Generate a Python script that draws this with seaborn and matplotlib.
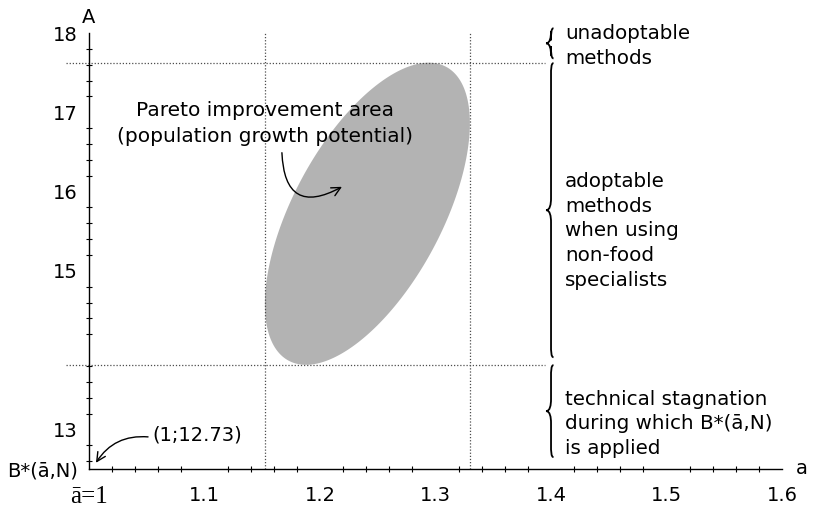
import numpy as np
import pandas as pd
import seaborn as sns

import matplotlib.pyplot as plt
from matplotlib.path import Path
from matplotlib.patches import PathPatch
from matplotlib.ticker import MultipleLocator

# axis ranges and ticks
a_lim = (1.0, 1.6)
A_lim = (12.5, 18.0)
a_ticks = [1.0, 1.1, 1.2, 1.3, 1.4, 1.5, 1.6]
a_tick_labels = ["ā=1", "1.1", "1.2", "1.3", "1.4", "1.5", "1.6"]
A_ticks = [12.5, 13, 14, 15, 16, 17, 18]
A_tick_labels = ["B*(ā,N)", "13", "", "15", "16", "17", "18"]

# Pareto improvement area (ellipse): centre in data, semi-axes in pixels, tilt in degrees
ellipse_center = (1.241, 15.72)
ellipse_semi_px = (166.7, 74.4)
ellipse_angle = 61.8

# braces on the right: (bottom, top) in A units and the text next to each
brace_a = 1.4
brace_spans = [(17.68, 18.06), (13.91, 17.62), (12.65, 13.81)]
brace_text_y = [17.836, 15.503, 13.07]
brace_texts = ["unadoptable\nmethods",
               "adoptable\nmethods\nwhen using\nnon-food\nspecialists",
               "technical stagnation\nduring which B*(ā,N)\nis applied"]

origin_label = "(1;12.73)"
origin_arrow = [(1.0511, 12.905), (1.006, 12.578)]
pareto_label = "Pareto improvement area\n(population growth potential)"
pareto_label_pos = (1.152, 16.86)
pareto_arrow = [(1.167, 16.49), (1.219, 16.06)]

sns.set_theme(style="white")
plt.rcParams['font.family'] = ['DejaVu Sans']
plt.rcParams['text.color'] = 'black'

fig = plt.figure(figsize=(8.13, 5.11), dpi=100)
ax = fig.add_axes([0.1095, 0.0822, 0.8524, 0.8532])
ax.set_xlim(*a_lim)
ax.set_ylim(*A_lim)

# pixels per data unit
o = ax.transData.transform((0, 0))
sx = ax.transData.transform((1, 0))[0] - o[0]
sy = ax.transData.transform((0, 1))[1] - o[1]

t = np.linspace(0, 2 * np.pi, 400)
th = np.radians(ellipse_angle)
ea, eb = ellipse_semi_px
ex = ellipse_center[0] + (ea * np.cos(t) * np.cos(th) - eb * np.sin(t) * np.sin(th)) / sx
ey = ellipse_center[1] + (ea * np.cos(t) * np.sin(th) + eb * np.sin(t) * np.cos(th)) / sy
ax.fill(ex, ey, color='#b3b3b3', lw=0, zorder=1)

# dotted lines tangent to the ellipse
dot_kw = dict(color='0.3', lw=0.9, linestyle=(0, (1, 1.5)), estimator=None, sort=False, ax=ax)
for yv in [ey.max(), ey.min()]:
    df = pd.DataFrame({"a": [0.98, 1.395], "A": [yv, yv]})
    sns.lineplot(data=df, x="a", y="A", **dot_kw)
for xv in [ex.min(), ex.max()]:
    df = pd.DataFrame({"a": [xv, xv], "A": [A_lim[0], A_lim[1]]})
    sns.lineplot(data=df, x="a", y="A", **dot_kw)
for line in ax.get_lines():
    line.set_clip_on(False)


def draw_brace(ax, x, y0, y1, w, d):
    ym = (y0 + y1) / 2
    verts = [(x + 0.5 * w, y1),
             (x, y1), (x, y1 - d), (x, y1 - 2 * d),
             (x, ym + 2 * d),
             (x, ym + d), (x - 0.2 * w, ym), (x - w, ym),
             (x - 0.2 * w, ym), (x, ym - d), (x, ym - 2 * d),
             (x, y0 + 2 * d),
             (x, y0 + d), (x, y0), (x + 0.5 * w, y0)]
    codes = [Path.MOVETO,
             Path.CURVE4, Path.CURVE4, Path.CURVE4,
             Path.LINETO,
             Path.CURVE4, Path.CURVE4, Path.CURVE4,
             Path.CURVE4, Path.CURVE4, Path.CURVE4,
             Path.LINETO,
             Path.CURVE4, Path.CURVE4, Path.CURVE4]
    ax.add_patch(PathPatch(Path(verts, codes), fill=False, lw=1.3, color='black', clip_on=False))


for (y0, y1), ty, txt in zip(brace_spans, brace_text_y, brace_texts):
    draw_brace(ax, brace_a, y0, y1, 5 / sx, 6 / sy)
    ax.text(brace_a + 14 / sx, ty, txt, ha='left', va='center', fontsize=14.3, linespacing=1.37)

# annotations
ax.text(*pareto_label_pos, pareto_label, ha='center', va='center', fontsize=14.5, linespacing=1.5)
ax.annotate("", xy=pareto_arrow[1], xytext=pareto_arrow[0],
            arrowprops=dict(arrowstyle='->', connectionstyle='arc3,rad=0.8', color='black',
                            lw=1, shrinkA=0, shrinkB=0, mutation_scale=16))
ax.text(origin_arrow[0][0] + 4 / sx, origin_arrow[0][1] + 2 / sy, origin_label,
        ha='left', va='center', fontsize=14)
ax.annotate("", xy=origin_arrow[1], xytext=origin_arrow[0],
            arrowprops=dict(arrowstyle='->', connectionstyle='arc3,rad=0.3', color='black',
                            lw=1, shrinkA=0, shrinkB=0, mutation_scale=16))

# axes styling
sns.despine(ax=ax)
for s in ['left', 'bottom']:
    ax.spines[s].set_color('black')
    ax.spines[s].set_linewidth(1.0)
ax.set_xticks(a_ticks)
ax.set_xticklabels(a_tick_labels)
ax.set_yticks(A_ticks)
ax.set_yticklabels(A_tick_labels)
ax.xaxis.set_minor_locator(MultipleLocator(0.02))
ax.yaxis.set_minor_locator(MultipleLocator(0.2))
ax.tick_params(axis='both', which='major', direction='inout', length=8, width=1,
               color='black', labelcolor='black', labelsize=14)
ax.tick_params(axis='x', which='major', pad=8)
ax.tick_params(axis='y', which='major', pad=4)
ax.tick_params(axis='both', which='minor', direction='inout', length=4, width=0.8, color='black',
               bottom=True, left=True)
lbl = ax.get_xticklabels()[0]
lbl.set_fontfamily('Liberation Serif')
lbl.set_fontsize(18)
ax.set_xlabel("")
ax.set_ylabel("")
ax.text(1.0, 18.2, "A", ha='center', va='center', fontsize=14)
ax.text(1.617, 12.51, "a", ha='center', va='center', fontsize=14)
ax.grid(False)

fig.savefig("out.png", dpi=100)
